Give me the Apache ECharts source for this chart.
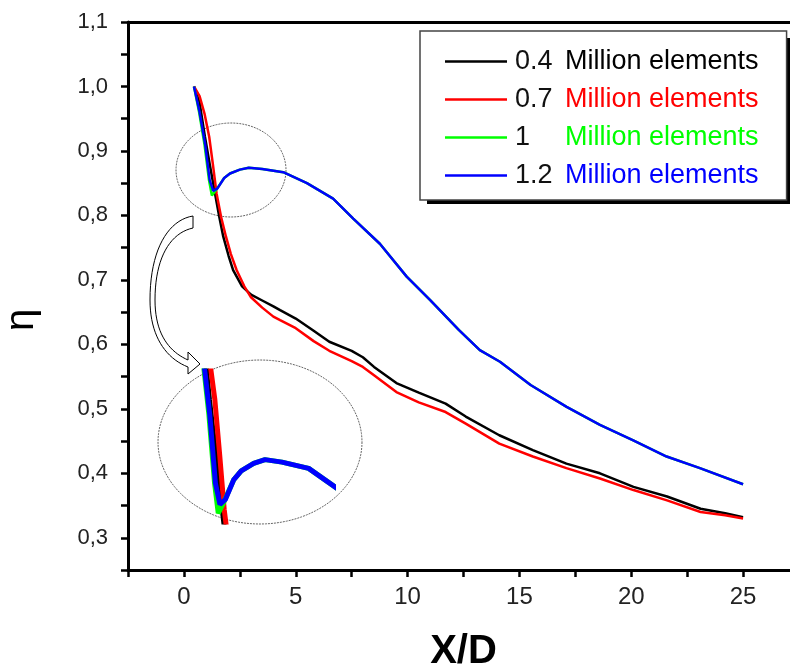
<!DOCTYPE html>
<html><head><meta charset="utf-8">
<script src="https://cdn.jsdelivr.net/npm/echarts@6/dist/echarts.min.js"></script>
<style>html,body{margin:0;padding:0;background:#fff}#c{width:790px;height:671px}</style>
</head><body><div id="c"></div>
<script>
// ---- data ----
const seriesNames = ['0.4 Million elements', '0.7 Million elements', '1 Million elements', '1.2 Million elements'];
const legendNumbers = ['0.4', '0.7', '1', '1.2'];
const legendWords = 'Million elements';
const colors = ['#000000', '#ff0000', '#00ff00', '#0000ff'];

const m04X = [0.45, 0.7, 0.94, 1.15, 1.39, 1.58, 1.76, 2.0, 2.2, 2.6, 3.0, 3.5, 4.0, 4.3, 5.0, 5.8, 6.5, 7.5, 8.0, 8.5, 9.5, 10.5, 11.7, 12.6, 14.1, 15.6, 17.1, 18.6, 20.1, 21.6, 23.1, 24.2, 25.0];
const m04Y = [1.0, 0.975, 0.922, 0.88, 0.834, 0.798, 0.767, 0.737, 0.715, 0.69, 0.677, 0.668, 0.659, 0.653, 0.640, 0.621, 0.604, 0.590, 0.580, 0.565, 0.540, 0.525, 0.508, 0.488, 0.459, 0.436, 0.415, 0.400, 0.379, 0.364, 0.345, 0.338, 0.332];

const m07X = [0.45, 0.7, 0.92, 1.13, 1.3, 1.46, 1.66, 1.88, 2.1, 2.36, 2.7, 3.0, 3.5, 4.0, 4.3, 5.0, 5.8, 6.5, 7.5, 8.0, 8.5, 9.5, 10.5, 11.7, 12.6, 14.1, 15.6, 17.1, 18.6, 20.1, 21.6, 23.1, 24.2, 25.0];
const m07Y = [1.0, 0.985, 0.958, 0.922, 0.878, 0.834, 0.798, 0.767, 0.74, 0.715, 0.69, 0.673, 0.657, 0.643, 0.6375, 0.625, 0.605, 0.590, 0.574, 0.565, 0.552, 0.526, 0.510, 0.495, 0.477, 0.446, 0.426, 0.408, 0.392, 0.374, 0.358, 0.340, 0.335, 0.330];

const m10X = [0.45, 0.68, 0.92, 1.12, 1.25, 1.45, 1.8, 2.06, 2.5, 2.9, 3.5, 4.44, 5.5, 6.67, 7.57, 8.76, 9.96, 11.0, 12.3, 13.23, 14.13, 15.5, 17.11, 18.6, 20.09, 21.58, 23.07, 25.0];
const m10Y = [1.0, 0.96, 0.91, 0.855, 0.831, 0.840, 0.858, 0.865, 0.871, 0.874, 0.872, 0.867, 0.850, 0.826, 0.795, 0.756, 0.705, 0.669, 0.622, 0.591, 0.573, 0.537, 0.503, 0.475, 0.451, 0.426, 0.408, 0.383];

const m12X = [0.45, 0.7, 0.95, 1.15, 1.31, 1.5, 1.8, 2.06, 2.5, 2.9, 3.5, 4.44, 5.5, 6.67, 7.57, 8.76, 9.96, 11.0, 12.3, 13.23, 14.13, 15.5, 17.11, 18.6, 20.09, 21.58, 23.07, 25.0];
const m12Y = [1.0, 0.96, 0.91, 0.855, 0.838, 0.842, 0.858, 0.865, 0.871, 0.874, 0.872, 0.867, 0.850, 0.826, 0.795, 0.756, 0.705, 0.669, 0.622, 0.591, 0.573, 0.537, 0.503, 0.475, 0.451, 0.426, 0.408, 0.383];

const xTickValues = [0, 5, 10, 15, 20, 25];
const xTickLabels = ['0', '5', '10', '15', '20', '25'];
const yTickValues = [0.3, 0.4, 0.5, 0.6, 0.7, 0.8, 0.9, 1.0, 1.1];
const yTickLabels = ['0,3', '0,4', '0,5', '0,6', '0,7', '0,8', '0,9', '1,0', '1,1'];

// ---- build ----
const zip = (xs, ys) => xs.map((x, i) => [x, ys[i]]);
const seriesData = [zip(m04X, m04Y), zip(m07X, m07Y), zip(m10X, m10Y), zip(m12X, m12Y)];

function lookup(vals, labels, v) {
  for (let i = 0; i < vals.length; i++) if (Math.abs(vals[i] - v) < 1e-6) return labels[i];
  return '';
}

const FONT = 'Liberation Sans, Arial, sans-serif';

const rich = { n: { color: '#111', fontSize: 27, fontFamily: FONT, width: 50, padding: [0, 0, 0, 3], lineHeight: 28 } };
colors.forEach((c, i) => {
  rich['m' + i] = { color: c, fontSize: 27, fontFamily: FONT, lineHeight: 28 };
});

const series = [];
seriesData.forEach((d, i) => {
  series.push({
    name: seriesNames[i], type: 'line', data: d, xAxisIndex: 0, yAxisIndex: 0,
    symbol: 'none', smooth: false, lineStyle: { color: colors[i], width: 2.5 }, itemStyle: { color: colors[i] },
    z: 3 + i, animation: false
  });
});
seriesData.forEach((d, i) => {
  series.push({
    name: seriesNames[i], type: 'line', data: d, xAxisIndex: 2, yAxisIndex: 1,
    symbol: 'none', smooth: false, clip: true, lineStyle: { color: colors[i], width: 5 }, itemStyle: { color: colors[i] },
    z: 3 + i, animation: false
  });
});

// decorative outlines (not data marks)
function ellipsePts(cx, cy, rx, ry) {
  const pts = [];
  for (let k = 0; k < 120; k++) {
    const a = k / 120 * Math.PI * 2;
    pts.push([cx + rx * Math.cos(a), cy + ry * Math.sin(a)]);
  }
  return pts;
}
function bez(p0, p1, p2, p3, n) {
  const out = [];
  for (let k = 0; k <= n; k++) {
    const t = k / n, u = 1 - t;
    out.push([
      u * u * u * p0[0] + 3 * u * u * t * p1[0] + 3 * u * t * t * p2[0] + t * t * t * p3[0],
      u * u * u * p0[1] + 3 * u * u * t * p1[1] + 3 * u * t * t * p2[1] + t * t * t * p3[1]
    ]);
  }
  return out;
}
const arrowPts = [].concat(
  bez([193, 216], [168, 220], [150, 250], [150, 300], 20),
  bez([150, 300], [150, 335], [165, 358], [188, 367], 20),
  [[188, 374], [200, 364], [188, 352], [188, 360]],
  bez([188, 360], [170, 352], [155, 335], [155, 300], 20),
  bez([155, 300], [155, 258], [170, 233], [193, 228], 20)
);

const option = {
  animation: false,
  backgroundColor: '#fff',
  grid: [
    { left: 128, right: -9, top: 22, bottom: 101, containLabel: false, outerBoundsMode: 'none' },
    { left: 197, top: 371, width: 136, height: 151, containLabel: false, outerBoundsMode: 'none' }
  ],
  xAxis: [
    {
      gridIndex: 0, type: 'value', min: -2.5, max: 27.5, interval: 2.5,
      axisLine: { onZero: false, lineStyle: { color: '#000', width: 3 } },
      axisTick: { length: 7, lineStyle: { color: '#000', width: 2.5 } },
      axisLabel: {
        formatter: v => lookup(xTickValues, xTickLabels, v), margin: 15,
        color: '#222', fontSize: 24, fontFamily: FONT
      },
      splitLine: { show: false },
      name: 'X/D', nameLocation: 'middle', nameGap: 62,
      nameTextStyle: { fontSize: 40, fontWeight: 'bold', color: '#000', fontFamily: FONT }
    },
    {
      gridIndex: 0, type: 'value', position: 'top', min: -2.5, max: 27.5, interval: 2.5,
      axisLine: { show: true, onZero: false, lineStyle: { color: '#000', width: 3 } },
      axisTick: { show: false }, axisLabel: { show: false }, splitLine: { show: false }
    },
    { gridIndex: 1, type: 'value', min: 0.5, max: 5.3, show: false, splitLine: { show: false } }
  ],
  yAxis: [
    {
      gridIndex: 0, type: 'value', min: 0.25, max: 1.1, interval: 0.05,
      axisLine: { show: true, onZero: false, lineStyle: { color: '#000', width: 3 } },
      axisTick: { show: true, length: 7, lineStyle: { color: '#000', width: 2.5 } },
      axisLabel: {
        formatter: v => lookup(yTickValues, yTickLabels, v), margin: 20,
        color: '#222', fontSize: 22, fontFamily: FONT
      },
      splitLine: { show: false },
      name: 'η', nameLocation: 'middle', nameRotate: 90, nameGap: 86,
      nameTextStyle: { fontSize: 40, color: '#000', fontFamily: FONT, padding: [0, 48, 0, 0] }
    },
    { gridIndex: 1, type: 'value', min: 0.824, max: 0.945, show: false, splitLine: { show: false } }
  ],
  legend: {
    data: seriesNames, orient: 'vertical', left: 420, top: 31, z: 10,
    icon: 'rect', itemWidth: 62, itemHeight: 2.5, itemGap: 11,
    padding: [17, 28, 11, 25],
    backgroundColor: '#fff', borderColor: '#444', borderWidth: 1.5,
    selectedMode: false,
    formatter: name => {
      const i = seriesNames.indexOf(name);
      return '{n|' + legendNumbers[i] + '}{m' + i + '|' + legendWords + '}';
    },
    textStyle: { rich: rich }
  },
  graphic: [
    { type: 'rect', z: 5, shape: { x: 427, y: 38, width: 366, height: 166 }, style: { fill: '#000' } },
    { type: 'polygon', z: 1, shape: { points: ellipsePts(231, 170, 55, 47) },
      style: { fill: 'none', stroke: '#666', lineWidth: 1, lineDash: [2, 1] } },
    { type: 'polygon', z: 1, shape: { points: ellipsePts(260, 442, 102, 82) },
      style: { fill: 'none', stroke: '#666', lineWidth: 1, lineDash: [2, 1] } },
    { type: 'polygon', z: 1, shape: { points: arrowPts },
      style: { fill: '#fff', stroke: '#000', lineWidth: 1 } }
  ],
  series: series
};

const chart = echarts.init(document.getElementById('c'), null, { renderer: 'canvas' });
chart.setOption(option);
</script>
</body></html>
